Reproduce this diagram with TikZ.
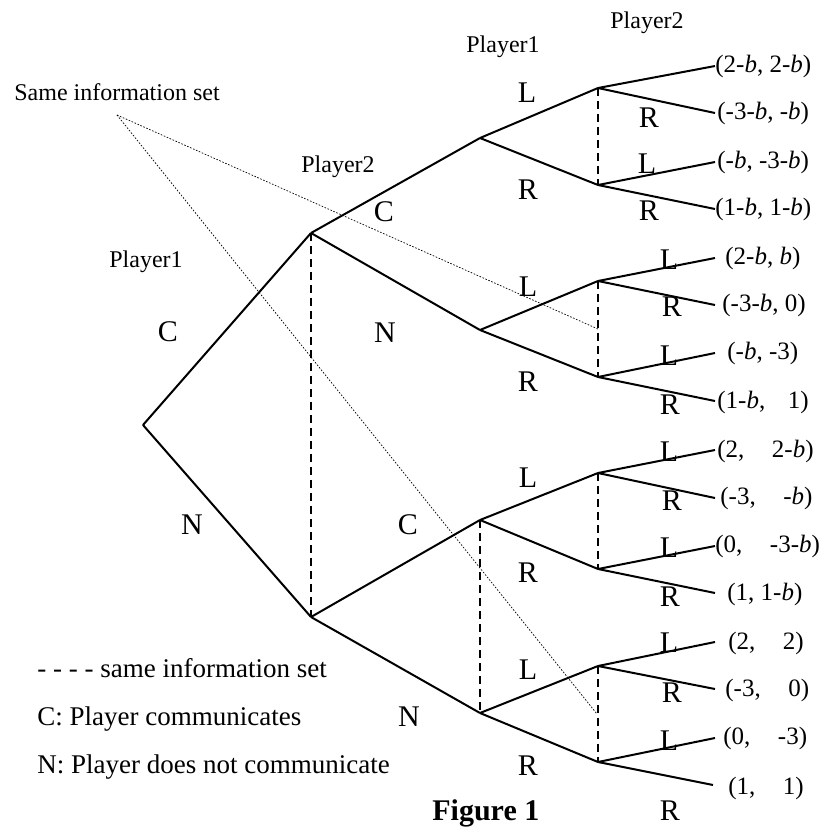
\documentclass[tikz,border=0pt]{standalone}
\usepackage{fontspec}
\setmainfont{Liberation Serif}
\begin{document}
\begin{tikzpicture}[x=0.5pt,y=-0.5pt,
  branch/.style={-,line width=1pt,draw=black},
  infoset/.style={-,line width=0.9pt,draw=black,dash pattern=on 4pt off 2.5pt},
  pointer/.style={-,line width=0.35pt,draw=black,dash pattern=on 0.8pt off 0.8pt},
  move/.style={inner sep=0pt,font=\fontsize{15}{18}\selectfont},
  who/.style={inner sep=0pt,anchor=base,font=\fontsize{12}{14}\selectfont},
  pay/.style={inner sep=0pt,anchor=west,font=\fontsize{12.5}{15}\selectfont},
  note/.style={inner sep=0pt,anchor=base west,font=\fontsize{13.5}{16}\selectfont}]
\useasboundingbox (0,0) rectangle (824,827);
% decision points
\coordinate (root) at (143,425);
\coordinate (a) at (311,233);
\coordinate (b) at (311,617);
\coordinate (c1) at (480,138);
\coordinate (c2) at (480,330);
\coordinate (c3) at (480,520);
\coordinate (c4) at (480,713);
\coordinate (d1) at (598,88);
\coordinate (d2) at (598,185);
\coordinate (d3) at (598,281);
\coordinate (d4) at (598,377);
\coordinate (d5) at (598,473);
\coordinate (d6) at (598,569);
\coordinate (d7) at (598,666);
\coordinate (d8) at (598,762);
% end points
\coordinate (e1) at (715,66);
\coordinate (e2) at (715,113);
\coordinate (e3) at (715,162);
\coordinate (e4) at (715,209);
\coordinate (e5) at (715,258);
\coordinate (e6) at (715,305);
\coordinate (e7) at (715,353);
\coordinate (e8) at (715,401);
\coordinate (e9) at (715,450);
\coordinate (e10) at (715,498);
\coordinate (e11) at (715,546);
\coordinate (e12) at (715,593);
\coordinate (e13) at (715,642);
\coordinate (e14) at (715,689);
\coordinate (e15) at (715,738);
\coordinate (e16) at (713,785);
\coordinate (m1) at (598,329);
\coordinate (m2) at (597,714);
% tree
\path [branch] (root) edge (a);
\path [branch] (root) edge (b);
\path [branch] (a) edge (c1);
\path [branch] (a) edge (c2);
\path [branch] (b) edge (c3);
\path [branch] (b) edge (c4);
\path [branch] (c1) edge (d1);
\path [branch] (c1) edge (d2);
\path [branch] (c2) edge (d3);
\path [branch] (c2) edge (d4);
\path [branch] (c3) edge (d5);
\path [branch] (c3) edge (d6);
\path [branch] (c4) edge (d7);
\path [branch] (c4) edge (d8);
\path [branch] (d1) edge (e1);
\path [branch] (d1) edge (e2);
\path [branch] (d2) edge (e3);
\path [branch] (d2) edge (e4);
\path [branch] (d3) edge (e5);
\path [branch] (d3) edge (e6);
\path [branch] (d4) edge (e7);
\path [branch] (d4) edge (e8);
\path [branch] (d5) edge (e9);
\path [branch] (d5) edge (e10);
\path [branch] (d6) edge (e11);
\path [branch] (d6) edge (e12);
\path [branch] (d7) edge (e13);
\path [branch] (d7) edge (e14);
\path [branch] (d8) edge (e15);
\path [branch] (d8) edge (e16);
% information sets
\path [infoset] (a) edge (b);
\path [infoset] (c3) edge (c4);
\path [infoset] (d1) edge (d2);
\path [infoset] (d3) edge (d4);
\path [infoset] (d5) edge (d6);
\path [infoset] (d7) edge (d8);
\node[inner sep=0pt,anchor=base,font=\fontsize{12}{14}\selectfont] (sis) at (117,100) {Same information set};
\coordinate (s0) at (117,115);
\path [pointer] (s0) edge (m1);
\path [pointer] (s0) edge (m2);
% players
\node[who] (pl1) at (146,267) {Player1};
\node[who] (pl2) at (338,172) {Player2};
\node[who] (pl3) at (503,52) {Player1};
\node[who] (pl4) at (647,28) {Player2};
% moves
\node[move] (mC) at (168,332) {C};
\node[move] (mN) at (192,525) {N};
\node[move] (mC1) at (384,212) {C};
\node[move] (mN1) at (385,333) {N};
\node[move] (mC2) at (408,525) {C};
\node[move] (mN2) at (409,717) {N};
\node[move] (mL1) at (527,93) {L};
\node[move] (mR1) at (528,190) {R};
\node[move] (mL2) at (528,287) {L};
\node[move] (mR2) at (528,382) {R};
\node[move] (mL3) at (528,478) {L};
\node[move] (mR3) at (528,573) {R};
\node[move] (mL4) at (528,670) {L};
\node[move] (mR4) at (528,766) {R};
\node[move] (nR1) at (649,118) {R};
\node[move] (nL2) at (647,164) {L};
\node[move] (nR2) at (649,211) {R};
\node[move] (nL3) at (669,260) {L};
\node[move] (nR3) at (672,307) {R};
\node[move] (nL4) at (669,356) {L};
\node[move] (nR4) at (670,405) {R};
\node[move] (nL5) at (669,452) {L};
\node[move] (nR5) at (672,501) {R};
\node[move] (nL6) at (669,548) {L};
\node[move] (nR6) at (670,597) {R};
\node[move] (nL7) at (669,643) {L};
\node[move] (nR7) at (672,693) {R};
\node[move] (nL8) at (669,741) {L};
\node[move] (nR8) at (670,811) {R};
% payoffs
\node[pay] (p1) at (715,66) {(2-\textit{b}, 2-\textit{b})};
\node[pay] (p2) at (717,113) {(-3-\textit{b}, -\textit{b})};
\node[pay] (p3) at (717,162) {(-\textit{b}, -3-\textit{b})};
\node[pay] (p4) at (715,209) {(1-\textit{b}, 1-\textit{b})};
\node[pay] (p5) at (725,258) {(2-\textit{b}, \textit{b})};
\node[pay] (p6) at (722,305) {(-3-\textit{b}, 0)};
\node[pay] (p7) at (727,353) {(-\textit{b}, -3)};
\node[pay] (p8) at (717,402) {(1-\textit{b},\hspace{0.9em}1)};
\node[pay] (p9) at (717,451) {(2,\hspace{1.1em}2-\textit{b})};
\node[pay] (p10) at (720,498) {(-3,\hspace{1.1em}-\textit{b})};
\node[pay] (p11) at (715,546) {(0,\hspace{1.1em}-3-\textit{b})};
\node[pay] (p12) at (727,594) {(1, 1-\textit{b})};
\node[pay] (p13) at (728,643) {(2,\hspace{1.1em}2)};
\node[pay] (p14) at (725,690) {(-3,\hspace{1.1em}0)};
\node[pay] (p15) at (723,738) {(0,\hspace{1.1em}-3)};
\node[pay] (p16) at (728,788) {(1,\hspace{1.1em}1)};
% legend
\node[note] (k1) at (37,677) {- - - - same information set};
\node[note] (k2) at (37,725) {C: Player communicates};
\node[note] (k3) at (37,773) {N: Player does not communicate};
\node[inner sep=0pt,anchor=base west,font=\fontsize{15}{18}\selectfont\bfseries] (fig) at (432,820) {Figure 1};
\end{tikzpicture}
\end{document}
